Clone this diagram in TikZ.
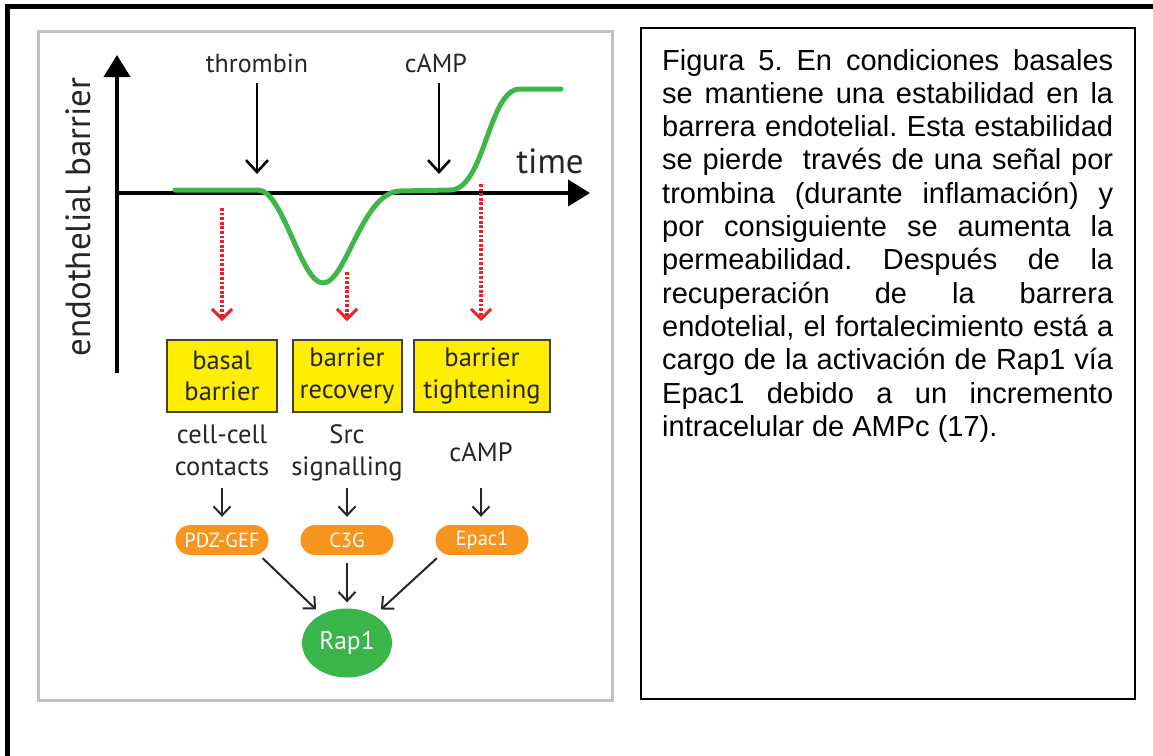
\documentclass[tikz,border=0pt]{standalone}
\usepackage{fontspec}
\setmainfont{PT Sans}
\newfontfamily\capfont{Liberation Sans}
\usetikzlibrary{arrows.meta,shapes.geometric,calc}
\frenchspacing

\definecolor{stageYellow}{RGB}{255,238,0}
\definecolor{gefOrange}{RGB}{247,148,30}
\definecolor{rapGreen}{RGB}{58,181,74}
\definecolor{curveGreen}{RGB}{62,182,72}
\definecolor{inkGray}{RGB}{38,38,38}
\definecolor{panelGray}{RGB}{192,192,192}
\definecolor{dotRed}{RGB}{236,32,38}

\tikzset{
  lbl/.style={text=inkGray, inner sep=0pt, font=\fontsize{26}{30}\selectfont},
  biglbl/.style={text=inkGray, inner sep=0pt, font=\fontsize{35}{40}\selectfont},
  stagebox/.style={draw=black!75, line width=2pt, fill=stageYellow, inner sep=0pt,
    minimum height=72pt, align=center, text=inkGray,
    font=\fontsize{26.5}{31.5}\selectfont},
  sourcetxt/.style={text=inkGray, inner sep=0pt, align=center,
    font=\fontsize{26.5}{32}\selectfont},
  gef/.style={fill=gefOrange, rounded corners=15pt, minimum width=93pt,
    minimum height=30pt, inner sep=0pt, text=white, font=\fontsize{20.5}{24}\selectfont},
  rap/.style={ellipse, fill=rapGreen, minimum width=90pt, minimum height=69pt,
    inner sep=0pt, text=white, font=\fontsize{25.5}{30}\selectfont},
  axis/.style={line width=4pt, -{Triangle[width=26pt,length=22pt]}},
  signal/.style={line width=2.6pt, -{Straight Barb[width=22pt,length=12pt,line width=2.6pt]}},
  readout/.style={draw=dotRed, line width=3.5pt, dash pattern=on 2.8pt off 1.8pt,
    -{Straight Barb[width=20pt,length=10pt,line width=3pt]}},
  thin/.style={draw=inkGray, line width=2pt, -{Straight Barb[width=17pt,length=9pt,line width=2pt]}},
  curve/.style={draw=curveGreen, line width=5pt, line cap=round, line join=round},
}

\begin{document}
\begin{tikzpicture}[x=1pt,y=-1pt]
\useasboundingbox (0,0) rectangle (1153,755);
\fill[white] (0,0) rectangle (1153,755);

% outer frame (only top and left edges fall inside the page)
\draw[line width=4.5pt] (7.5,760) -- (7.5,6.5) -- (1160,6.5);

% grey panel holding the scheme
\draw[panelGray, line width=3pt] (38,31) rectangle (612,700);

% axes
\coordinate (yb) at (117,373);
\coordinate (yt) at (117,55);
\coordinate (xo) at (115,193);
\coordinate (xt) at (590,193);
\draw[axis] (yb) -- (yt);
\draw[axis] (xo) -- (xt);
\node[biglbl, rotate=90, anchor=base] (ylab) at (90,217) {endothelial barrier};
\node[biglbl, anchor=base] (time) at (550,173) {time};

% stimuli
\node[lbl, anchor=base] (thr) at (257,72) {thrombin};
\node[lbl, anchor=base] (camp1) at (436,72) {cAMP};
\coordinate (thrEnd) at (257,174);
\coordinate (campEnd) at (439,174);
\draw[signal] (257,83) -- (thrEnd);
\draw[signal] (439,83) -- (campEnd);

% barrier response curve
\draw[curve] (175,190) -- (258,190)
  .. controls (283,190) and (301,283) .. (323,283)
  .. controls (346,283) and (362,192) .. (400,191)
  -- (450,190)
  .. controls (485,190) and (488,89) .. (520,89)
  -- (561,89);

% stages
\node[stagebox, minimum width=110pt] (b1) at (222,376) {basal\\barrier};
\node[stagebox, minimum width=109pt] (b2) at (347,376) {barrier\\recovery};
\node[stagebox, minimum width=136pt] (b3) at (482,376) {barrier\\tightening};

\coordinate (r1) at (222,208);
\coordinate (r2) at (347,272);
\coordinate (r3) at (481,184);
\draw[readout, shorten >=18pt] (r1) -- (b1.north);
\draw[readout, shorten >=18pt] (r2) -- (b2.north);
\draw[readout, shorten >=18pt] (r3) -- ([xshift=-1pt]b3.north);

% upstream signals (base anchor sits on the last line)
\node[sourcetxt, anchor=base] (s1) at (222,475) {cell-cell\\contacts};
\node[sourcetxt, anchor=base] (s2) at (347,475) {Src\\signalling};
\node[sourcetxt, anchor=base] (s3) at (481,461) {cAMP};

% GEFs
\node[gef] (g1) at (222,540) {PDZ-GEF};
\node[gef] (g2) at (347,540) {C3G};
\node[gef] (g3) at (482,540) {Epac1};

\draw[thin] (222,488) -- ([yshift=8pt]g1.north);
\draw[thin] (347,488) -- ([yshift=8pt]g2.north);
\draw[thin] (481,488) -- ([xshift=-1pt,yshift=8pt]g3.north);

% Rap1
\node[rap] (rap) at (347,643) {Rap1};
\draw[thin] ($(g1.south east)+(-6,3)$) -- ($(rap.north west)+(1,-9)$);
\draw[thin, shorten <=8pt, shorten >=6pt] (g2.south) -- (rap.north);
\draw[thin] ($(g3.south west)+(1.5,3)$) -- ($(rap.north east)+(2,-9)$);

% caption (base anchor sits on the last line)
\draw[line width=2pt] (641,28) rectangle (1135,699);
\node[anchor=base west, inner sep=0pt, align=left,
      font=\capfont\fontsize{29}{33.3}\selectfont] (cap) at (662,436.3) {%
\makebox[451pt][s]{Figura 5. En condiciones basales}\\
\makebox[451pt][s]{se mantiene una estabilidad en la}\\
\makebox[451pt][s]{barrera endotelial. Esta estabilidad}\\
\makebox[451pt][s]{se pierde \ través de una señal por}\\
\makebox[451pt][s]{trombina (durante inflamación) y}\\
\makebox[451pt][s]{por consiguiente se aumenta la}\\
\makebox[451pt][s]{permeabilidad. Después de la}\\
\makebox[451pt][s]{recuperación de la barrera}\\
\makebox[451pt][s]{endotelial, el fortalecimiento está a}\\
\makebox[451pt][s]{cargo de la activación de Rap1 vía}\\
\makebox[451pt][s]{Epac1 debido a un incremento}\\
intracelular de AMPc (17).};
\end{tikzpicture}
\end{document}
